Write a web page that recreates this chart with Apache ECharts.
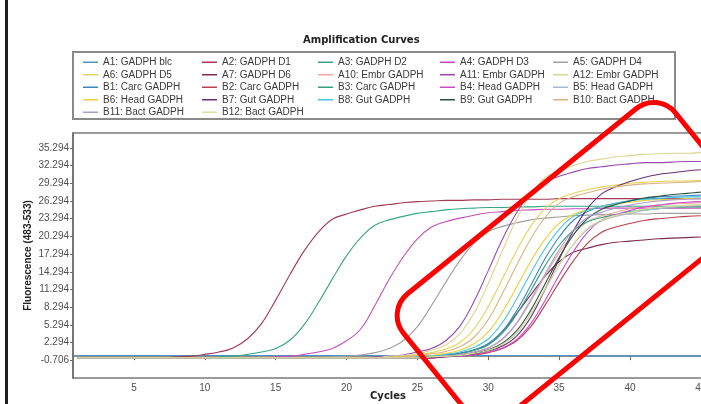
<!DOCTYPE html>
<html>
<head>
<meta charset="utf-8">
<script src="https://cdn.jsdelivr.net/npm/echarts@6/dist/echarts.min.js"></script>
<style>
  html, body { margin: 0; padding: 0; background: #fff; overflow: hidden; }
  #chart { width: 730px; height: 404px; }
</style>
</head>
<body>
<div id="chart"></div>
<script>
// cycles on the x axis
const cycles = [1, 2, 3, 4, 5, 6, 7, 8, 9, 10, 11, 12, 13, 14, 15, 16, 17, 18, 19, 20,
  21, 22, 23, 24, 25, 26, 27, 28, 29, 30, 31, 32, 33, 34, 35, 36, 37, 38, 39, 40,
  41, 42, 43, 44, 45]

const names = ['A1: GADPH blc', 'A2: GADPH D1', 'A3: GADPH D2', 'A4: GADPH D3', 'A5: GADPH D4',
  'A6: GADPH D5', 'A7: GADPH D6', 'A10: Embr GADPH', 'A11: Embr GADPH', 'A12: Embr GADPH',
  'B1: Carc GADPH', 'B2: Carc GADPH', 'B3: Carc GADPH', 'B4: Head GADPH', 'B5: Head GADPH',
  'B6: Head GADPH', 'B7: Gut GADPH', 'B8: Gut GADPH', 'B9: Gut GADPH', 'B10: Bact GADPH',
  'B11: Bact GADPH', 'B12: Bact GADPH']

// fluorescence per cycle
const a1 = [0.1, 0.1, 0.1, 0.1, 0.1, 0.1, 0.1, 0.1, 0.1, 0.1,
  0.1, 0.1, 0.1, 0.1, 0.1, 0.1, 0.1, 0.1, 0.1, 0.1,
  0.1, 0.1, 0.1, 0.1, 0.1, 0.1, 0.1, 0.1, 0.1, 0.1,
  0.1, 0.1, 0.1, 0.1, 0.1, 0.1, 0.0, 0.0, 0.0, 0.0,
  0.0, 0.0, 0.0, 0.0, 0.0]
const a2 = [-0.3, -0.3, -0.3, -0.3, -0.3, -0.3, -0.3, -0.1, 0.0, 0.3,
  0.7, 1.4, 2.9, 5.5, 9.5, 13.8, 17.8, 21.0, 23.2, 24.1,
  24.8, 25.4, 25.7, 26.0, 26.2, 26.3, 26.4, 26.4, 26.5, 26.5,
  26.6, 26.6, 26.6, 26.6, 26.7, 26.7, 26.7, 26.7, 26.7, 26.7,
  26.7, 26.7, 26.7, 26.7, 26.7]
const a3 = [-0.3, -0.3, -0.3, -0.3, -0.3, -0.3, -0.3, -0.3, -0.3, -0.3,
  -0.1, 0.0, 0.3, 0.7, 1.3, 2.7, 5.3, 9.0, 13.1, 17.0,
  20.1, 22.2, 23.1, 23.7, 24.2, 24.5, 24.8, 25.0, 25.1, 25.2,
  25.2, 25.3, 25.3, 25.4, 25.4, 25.4, 25.4, 25.4, 25.4, 25.4,
  25.4, 25.4, 25.4, 25.4, 25.4]
const a4 = [-0.3, -0.3, -0.3, -0.3, -0.3, -0.3, -0.3, -0.3, -0.3, -0.3,
  -0.3, -0.3, -0.3, -0.3, -0.1, 0.0, 0.3, 0.7, 1.3, 2.6,
  4.6, 8.6, 13.0, 16.8, 19.9, 21.9, 22.8, 23.4, 23.9, 24.3,
  24.5, 24.7, 24.8, 24.9, 24.9, 25.0, 25.0, 25.1, 25.1, 25.1,
  25.1, 25.1, 25.1, 25.1, 25.1]
const a5 = [-0.3, -0.3, -0.3, -0.3, -0.3, -0.3, -0.3, -0.3, -0.3, -0.3,
  -0.3, -0.3, -0.3, -0.3, -0.3, -0.3, -0.3, -0.3, -0.1, 0.0,
  0.2, 0.6, 1.3, 2.6, 5.0, 8.6, 12.5, 16.2, 19.1, 21.1,
  22.0, 22.6, 23.1, 23.4, 23.6, 23.8, 23.9, 24.0, 24.0, 24.1,
  24.1, 24.2, 24.2, 24.2, 24.2]
const a6 = [-0.3, -0.3, -0.3, -0.3, -0.3, -0.3, -0.3, -0.3, -0.3, -0.3,
  -0.3, -0.3, -0.3, -0.3, -0.3, -0.3, -0.3, -0.3, -0.3, -0.3,
  -0.3, -0.3, -0.1, 0.0, 0.2, 0.6, 1.2, 2.3, 4.6, 8.4,
  13.1, 17.9, 22.0, 25.0, 26.7, 27.6, 28.2, 28.7, 29.0, 29.3,
  29.5, 29.6, 29.7, 29.7, 29.8]
const a7 = [-0.3, -0.3, -0.3, -0.3, -0.3, -0.3, -0.3, -0.3, -0.3, -0.3,
  -0.3, -0.3, -0.3, -0.3, -0.3, -0.3, -0.3, -0.3, -0.3, -0.3,
  -0.3, -0.3, -0.3, -0.3, -0.1, 0.0, 0.2, 0.5, 1.0, 2.1,
  4.2, 7.2, 10.4, 13.5, 16.0, 17.6, 18.3, 18.9, 19.3, 19.5,
  19.7, 19.9, 20.0, 20.1, 20.2]
const a10 = [-0.3, -0.3, -0.3, -0.3, -0.3, -0.3, -0.3, -0.3, -0.3, -0.3,
  -0.3, -0.3, -0.3, -0.3, -0.3, -0.3, -0.3, -0.3, -0.3, -0.3,
  -0.3, -0.3, -0.3, -0.3, -0.3, -0.1, 0.0, 0.3, 0.7, 1.4,
  2.8, 5.5, 9.3, 13.6, 17.5, 20.7, 22.8, 23.8, 24.4, 25.0,
  25.3, 25.6, 25.8, 25.9, 26.0]
const a11 = [-0.3, -0.3, -0.3, -0.3, -0.3, -0.3, -0.3, -0.3, -0.3, -0.3,
  -0.3, -0.3, -0.3, -0.3, -0.3, -0.3, -0.3, -0.3, -0.3, -0.3,
  -0.3, -0.1, 0.0, 0.2, 0.7, 1.3, 2.6, 5.1, 9.3, 14.5,
  19.8, 24.3, 27.7, 29.5, 30.5, 31.2, 31.8, 32.1, 32.4, 32.6,
  32.8, 32.8, 32.9, 33.0, 33.0]
const a12 = [-0.3, -0.3, -0.3, -0.3, -0.3, -0.3, -0.3, -0.3, -0.3, -0.3,
  -0.3, -0.3, -0.3, -0.3, -0.3, -0.3, -0.3, -0.3, -0.3, -0.3,
  -0.3, -0.3, 0.0, 0.1, 0.4, 1.0, 1.9, 3.8, 7.3, 12.3,
  17.9, 23.2, 27.4, 30.2, 31.4, 32.3, 33.0, 33.4, 33.8, 34.0,
  34.2, 34.3, 34.4, 34.4, 34.5]
const b1 = [-0.3, -0.3, -0.3, -0.3, -0.3, -0.3, -0.3, -0.3, -0.3, -0.3,
  -0.3, -0.3, -0.3, -0.3, -0.3, -0.3, -0.3, -0.3, -0.3, -0.3,
  -0.3, -0.3, -0.3, -0.3, -0.1, 0.0, 0.1, 0.5, 1.1, 2.1,
  4.2, 7.7, 12.0, 16.5, 20.2, 23.0, 24.5, 25.4, 25.9, 26.4,
  26.7, 27.0, 27.1, 27.2, 27.3]
const b2 = [-0.3, -0.3, -0.3, -0.3, -0.3, -0.3, -0.3, -0.3, -0.3, -0.3,
  -0.3, -0.3, -0.3, -0.3, -0.3, -0.3, -0.3, -0.3, -0.3, -0.3,
  -0.3, -0.3, -0.3, -0.3, -0.3, -0.3, -0.1, 0.0, 0.2, 0.6,
  1.3, 2.6, 5.0, 8.6, 12.5, 16.1, 19.1, 21.0, 21.9, 22.5,
  23.0, 23.3, 23.5, 23.7, 23.8]
const b3 = [-0.3, -0.3, -0.3, -0.3, -0.3, -0.3, -0.3, -0.3, -0.3, -0.3,
  -0.3, -0.3, -0.3, -0.3, -0.3, -0.3, -0.3, -0.3, -0.3, -0.3,
  -0.3, -0.3, -0.3, -0.3, -0.1, 0.0, 0.1, 0.4, 1.0, 1.9,
  3.9, 7.1, 11.1, 15.3, 18.8, 21.3, 22.8, 23.5, 24.0, 24.5,
  24.8, 25.0, 25.2, 25.3, 25.3]
const b4 = [-0.3, -0.3, -0.3, -0.3, -0.3, -0.3, -0.3, -0.3, -0.3, -0.3,
  -0.3, -0.3, -0.3, -0.3, -0.3, -0.3, -0.3, -0.3, -0.3, -0.3,
  -0.3, -0.3, -0.3, -0.3, -0.3, -0.3, -0.1, 0.0, 0.3, 0.7,
  1.4, 2.8, 5.5, 9.4, 13.7, 17.7, 21.0, 23.1, 24.0, 24.7,
  25.3, 25.6, 25.9, 26.1, 26.2]
const b5 = [-0.3, -0.3, -0.3, -0.3, -0.3, -0.3, -0.3, -0.3, -0.3, -0.3,
  -0.3, -0.3, -0.3, -0.3, -0.3, -0.3, -0.3, -0.3, -0.3, -0.3,
  -0.3, -0.3, -0.3, -0.3, -0.3, -0.1, 0.0, 0.1, 0.5, 1.0,
  2.0, 3.9, 7.2, 11.2, 15.4, 18.9, 21.5, 22.9, 23.7, 24.2,
  24.7, 25.0, 25.2, 25.4, 25.5]
const b6 = [-0.3, -0.3, -0.3, -0.3, -0.3, -0.3, -0.3, -0.3, -0.3, -0.3,
  -0.3, -0.3, -0.3, -0.3, -0.3, -0.3, -0.3, -0.3, -0.3, -0.3,
  -0.3, -0.3, -0.3, -0.1, 0.0, 0.1, 0.5, 1.0, 2.1, 4.1,
  7.5, 11.7, 16.1, 19.8, 22.5, 24.0, 24.8, 25.4, 25.8, 26.1,
  26.4, 26.5, 26.6, 26.7, 26.8]
const b7 = [-0.3, -0.3, -0.3, -0.3, -0.3, -0.3, -0.3, -0.3, -0.3, -0.3,
  -0.3, -0.3, -0.3, -0.3, -0.3, -0.3, -0.3, -0.3, -0.3, -0.3,
  -0.3, -0.3, -0.3, -0.3, -0.3, -0.3, -0.1, 0.1, 0.4, 0.9,
  1.7, 3.4, 6.6, 11.3, 16.4, 21.2, 25.0, 27.5, 28.7, 29.6,
  30.3, 30.8, 31.1, 31.4, 31.6]
const b8 = [-0.3, -0.3, -0.3, -0.3, -0.3, -0.3, -0.3, -0.3, -0.3, -0.3,
  -0.3, -0.3, -0.3, -0.3, -0.3, -0.3, -0.3, -0.3, -0.3, -0.3,
  -0.3, -0.3, -0.3, -0.3, -0.1, 0.0, 0.3, 0.7, 1.5, 2.9,
  5.7, 9.7, 14.1, 18.2, 21.5, 23.7, 24.7, 25.4, 25.9, 26.3,
  26.6, 26.7, 26.9, 27.0, 27.0]
const b9 = [-0.3, -0.3, -0.3, -0.3, -0.3, -0.3, -0.3, -0.3, -0.3, -0.3,
  -0.3, -0.3, -0.3, -0.3, -0.3, -0.3, -0.3, -0.3, -0.3, -0.3,
  -0.3, -0.3, -0.3, -0.3, -0.3, -0.1, 0.0, 0.1, 0.5, 1.1,
  2.2, 4.3, 7.8, 12.2, 16.7, 20.5, 23.3, 24.9, 25.7, 26.3,
  26.8, 27.1, 27.4, 27.6, 27.8]
const b10 = [-0.3, -0.3, -0.3, -0.3, -0.3, -0.3, -0.3, -0.3, -0.3, -0.3,
  -0.3, -0.3, -0.3, -0.3, -0.3, -0.3, -0.3, -0.3, -0.3, -0.3,
  -0.3, -0.3, -0.3, -0.1, 0.1, 0.4, 0.8, 1.6, 3.2, 6.2,
  10.6, 15.4, 19.9, 23.5, 25.9, 27.0, 27.7, 28.3, 28.7, 29.0,
  29.2, 29.3, 29.4, 29.5, 29.6]
const b11 = [-0.3, -0.3, -0.3, -0.3, -0.3, -0.3, -0.3, -0.3, -0.3, -0.3,
  -0.3, -0.3, -0.3, -0.3, -0.3, -0.3, -0.3, -0.3, -0.3, -0.3,
  -0.3, -0.3, -0.3, -0.3, -0.3, -0.1, 0.0, 0.3, 0.7, 1.4,
  2.9, 5.6, 9.6, 13.9, 18.0, 21.3, 23.5, 24.4, 25.1, 25.6,
  26.0, 26.3, 26.5, 26.6, 26.7]
const b12 = [-0.3, -0.3, -0.3, -0.3, -0.3, -0.3, -0.3, -0.3, -0.3, -0.3,
  -0.3, -0.3, -0.3, -0.3, -0.3, -0.3, -0.3, -0.3, -0.3, -0.3,
  -0.3, -0.3, -0.3, -0.3, -0.3, -0.1, 0.0, 0.1, 0.5, 1.0,
  2.0, 4.0, 7.2, 11.3, 15.5, 19.0, 21.7, 23.1, 23.9, 24.4,
  24.9, 25.2, 25.4, 25.6, 25.7]

const values = [a1, a2, a3, a4, a5, a6, a7, a10, a11, a12,
  b1, b2, b3, b4, b5, b6, b7, b8, b9, b10, b11, b12]

const lineColors = ['#4c94c8', '#a33b55', '#3aa585', '#c250b8', '#a0a0a0',
  '#e8d25a', '#7d2e52', '#eeaaa2', '#9a4aae', '#d9d88f',
  '#3c86c4', '#b8404f', '#34a17e', '#cc4cc6', '#a9b8c6',
  '#eccf3d', '#6a2f6c', '#42c6e0', '#275440', '#dcb27e',
  '#ab9ccc', '#dedd9c']

// y ticks sit at -0.706 + 3k
const yTicks = [-0.706, 2.294, 5.294, 8.294, 11.294, 14.294, 17.294,
  20.294, 23.294, 26.294, 29.294, 32.294, 35.294]

const font = 'Liberation Sans, Arial, sans-serif'

const chart = echarts.init(document.getElementById('chart'))

const series = values.map(function (vals, i) {
  return {
    name: names[i],
    type: 'line',
    data: cycles.map(function (c, j) { return [c, vals[j]] }),
    symbol: 'none',
    smooth: 0.4,
    color: lineColors[i],
    lineStyle: { width: 1.1 },
    emphasis: { disabled: true }
  }
})

// 5 legend columns, filled row by row
const colLeft = [83, 202, 318, 440, 553]
const legends = colLeft.map(function (x, k) {
  const data = []
  for (let i = k; i < names.length; i += 5) data.push(names[i])
  return {
    orient: 'vertical',
    left: x,
    top: 56,
    padding: 0,
    itemGap: 0,
    itemWidth: 15,
    itemHeight: 1.5,
    icon: 'rect',
    selectedMode: false,
    data: data,
    textStyle: { fontFamily: font, fontSize: 10, lineHeight: 12.5, color: '#3a3a3a' }
  }
})

const option = {
  animation: false,
  backgroundColor: '#fff',
  title: {
    text: 'Amplification Curves',
    left: 303,
    top: 35,
    padding: 0,
    textStyle: { fontFamily: 'DejaVu Sans', fontSize: 10, fontWeight: 'bold', color: '#222' }
  },
  legend: legends,
  grid: {
    left: 73,
    right: 15,
    top: 133,
    bottom: 26,
    outerBoundsMode: 'none',
    containLabel: false,
    show: true,
    borderColor: '#7a7a7a',
    borderWidth: 1.5
  },
  xAxis: {
    type: 'value',
    min: 0.7,
    max: 46,
    splitNumber: 9,
    minInterval: 5,
    maxInterval: 5,
    name: 'Cycles',
    nameLocation: 'middle',
    nameGap: 13,
    nameMoveOverlap: false,
    nameTextStyle: { fontFamily: 'DejaVu Sans', fontSize: 10, fontWeight: 'bold', color: '#222', padding: [0, 12, 0, 0] },
    axisLine: { lineStyle: { color: '#6a6a6a', width: 1.5 } },
    axisTick: { length: 4, lineStyle: { color: '#6a6a6a' } },
    axisLabel: { margin: 5, showMinLabel: false, showMaxLabel: false, fontFamily: font, fontSize: 10, color: '#505050' },
    splitLine: { show: false }
  },
  yAxis: {
    type: 'value',
    min: -3.706,
    max: 37.83,
    name: 'Fluorescence (483-533)',
    nameLocation: 'middle',
    nameGap: 40,
    nameMoveOverlap: false,
    nameTextStyle: { fontFamily: font, fontSize: 10, fontWeight: 'bold', color: '#222' },
    axisLine: { lineStyle: { color: '#6a6a6a', width: 1.5 } },
    axisTick: { length: 3, customValues: yTicks, lineStyle: { color: '#6a6a6a' } },
    axisLabel: {
      margin: 4,
      customValues: yTicks,
      fontFamily: font,
      fontSize: 10,
      color: '#505050',
      formatter: function (v) { return v.toFixed(3) }
    },
    splitLine: { show: false }
  },
  graphic: [
    // window edge on the left
    { type: 'rect', left: 5, top: 0, shape: { width: 3, height: 404 }, style: { fill: '#1e1e1e' } },
    // legend frame
    { type: 'rect', x: 73, y: 52, shape: { width: 602, height: 67 }, style: { fill: 'none', stroke: '#8a8a8a', lineWidth: 2 } },
    // red marker round the late curves
    {
      type: 'rect',
      x: 571.5,
      y: 262.6,
      rotation: 39 * Math.PI / 180,
      shape: { x: -175, y: -79, width: 350, height: 158, r: 28 },
      style: { fill: 'none', stroke: '#ff0000', lineWidth: 5 },
      z: 100
    }
  ],
  series: series
}

chart.setOption(option)
</script>
</body>
</html>
